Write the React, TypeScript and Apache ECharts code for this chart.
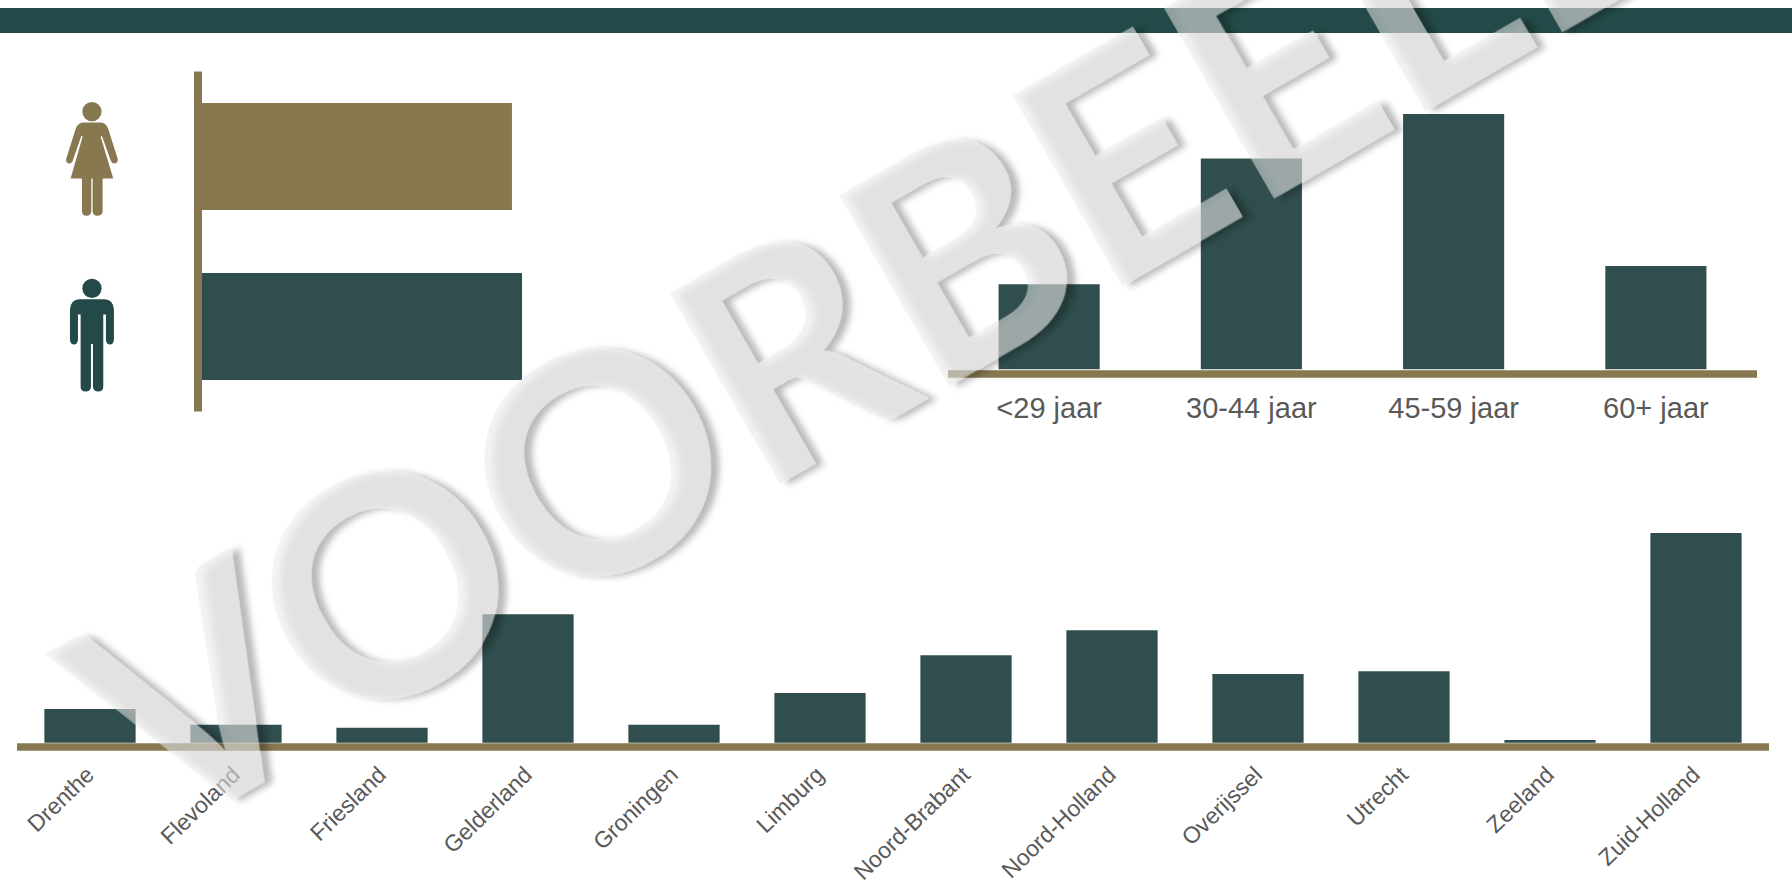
import React, { useEffect, useRef } from "react";
import * as echarts from "echarts";

const genderCategories = ["Vrouw", "Man"];
const genderValues = [49.2, 50.8];
const ageCategories = ["<29 jaar", "30-44 jaar", "45-59 jaar", "60+ jaar"];
const ageValues = [13.0, 32.2, 39.0, 15.8];
const provinceCategories = ["Drenthe", "Flevoland", "Friesland", "Gelderland", "Groningen", "Limburg", "Noord-Brabant", "Noord-Holland", "Overijssel", "Utrecht", "Zeeland", "Zuid-Holland"];
const provinceValues = [4.13, 2.21, 1.84, 15.75, 2.21, 6.1, 10.72, 13.79, 8.43, 8.76, 0.33, 25.72];

const DARK = "#2f4e4d";
const BAND = "#234a48";
const BROWN = "#877850";
const LABEL = "#595959";
const FONT = '"Liberation Sans", Arial, sans-serif';

const womanPath =
  "M127,95 a29,29 0 1,0 58,0 a29,29 0 1,0 -58,0 Z " +
  "M128,128 L184,128 Q200,130 206,150 L233,236 Q236,248 225,251 Q217,252 213,243 L186,168 L182,170 L220,296 L188,296 L188,395 Q186,408 172,408 Q160,408 158,395 L158,296 L154,296 L154,395 Q152,408 140,408 Q127,408 126,395 L126,296 L92,296 L128,170 L124,168 L98,243 Q94,252 86,251 Q76,248 79,236 L106,150 Q112,130 128,128 Z";
const manPath =
  "M127,85 a29,29 0 1,0 58,0 a29,29 0 1,0 -58,0 Z " +
  "M118,118 L194,118 Q220,120 222,148 L222,240 Q220,254 210,254 Q200,254 198,240 L198,164 L190,164 L190,380 Q190,395 175,395 Q160,395 159,380 L159,252 L153,252 L153,380 Q152,395 137,395 Q122,395 122,380 L122,164 L114,164 L114,240 Q112,254 102,254 Q92,254 90,240 L90,148 Q92,120 118,118 Z";

echarts.graphic.registerShape("womanIcon", echarts.graphic.extendPath(womanPath, {}));
echarts.graphic.registerShape("manIcon", echarts.graphic.extendPath(manPath, {}));

export default function App() {
  const ref = useRef<HTMLDivElement>(null);
  useEffect(() => {
    document.body.style.margin = "0";
    const chart = echarts.init(ref.current!, undefined, { renderer: "svg" });
    chart.setOption({
      animation: false,
      backgroundColor: "#ffffff",
      grid: [
        { left: 202, top: 71.5, width: 378, height: 340, outerBoundsMode: "none" },
        { left: 948, top: 107.5, width: 809, height: 261.8, outerBoundsMode: "none" },
        { left: 17, top: 530.7, width: 1752, height: 212, outerBoundsMode: "none" },
      ],
      xAxis: [
        { gridIndex: 0, type: "value", min: 0, max: 60, show: false },
        {
          gridIndex: 1,
          type: "category",
          data: ageCategories,
          offset: 4,
          axisLine: { onZero: false, lineStyle: { color: BROWN, width: 7.7, cap: "butt" } },
          axisTick: { show: false },
          axisLabel: { interval: 0, color: LABEL, fontFamily: FONT, fontSize: 29, margin: 20 },
        },
        {
          gridIndex: 2,
          type: "category",
          data: provinceCategories,
          offset: 4,
          axisLine: { onZero: false, lineStyle: { color: BROWN, width: 7.7, cap: "butt" } },
          axisTick: { show: false },
          axisLabel: { interval: 0, rotate: 44, color: LABEL, fontFamily: FONT, fontSize: 23, margin: 24 },
        },
      ],
      yAxis: [
        {
          gridIndex: 0,
          type: "category",
          inverse: true,
          data: genderCategories,
          offset: 4,
          axisLine: { onZero: false, lineStyle: { color: BROWN, width: 8, cap: "butt" } },
          axisTick: { show: false },
          axisLabel: { show: false },
        },
        { gridIndex: 1, type: "value", min: 0, max: 40, show: false },
        { gridIndex: 2, type: "value", min: 0, max: 26, show: false },
      ],
      series: [
        {
          type: "bar",
          xAxisIndex: 0,
          yAxisIndex: 0,
          barWidth: "63%",
          data: genderValues.map((value, i) => ({ value, itemStyle: { color: i === 0 ? BROWN : DARK } })),
        },
        { type: "bar", xAxisIndex: 1, yAxisIndex: 1, barWidth: "50%", itemStyle: { color: DARK }, data: ageValues },
        { type: "bar", xAxisIndex: 2, yAxisIndex: 2, barWidth: "62.5%", itemStyle: { color: DARK }, data: provinceValues },
      ],
      graphic: [
        { type: "rect", z: 10, shape: { x: 0, y: 8, width: 1792, height: 25 }, style: { fill: BAND } },
        { type: "womanIcon", z: 10, x: 40, y: 80, scaleX: 1 / 3, scaleY: 1 / 3, style: { fill: BROWN } },
        { type: "manIcon", z: 10, x: 40, y: 260, scaleX: 1 / 3, scaleY: 1 / 3, style: { fill: BAND } },
        {
          type: "text",
          z: 100,
          x: 98,
          y: 742,
          rotation: (30 * Math.PI) / 180,
          style: {
            text: "VOORBEELD",
            font: `bold 304px Lato, ${FONT}`,
            fill: "rgba(232,232,232,0.54)",
            textAlign: "left",
            textVerticalAlign: "middle",
            textShadowBlur: 6,
            textShadowOffsetX: 7,
            textShadowOffsetY: 5,
            textShadowColor: "rgba(0,0,0,0.5)",
          },
        },
      ],
    });
    return () => chart.dispose();
  }, []);
  return <div ref={ref} style={{ position: "absolute", left: 0, top: 0, width: 1792, height: 885 }} />;
}
